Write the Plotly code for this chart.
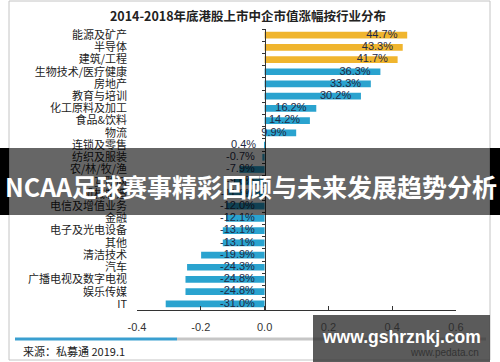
import plotly.graph_objects as go

# ---------------- data ----------------
categories = ["能源及矿产", "半导体", "建筑/工程", "生物技术/医疗健康", "房地产", "教育与培训",
              "化工原料及加工", "食品&饮料", "物流", "连锁及零售", "纺织及服装", "农/林/牧/渔",
              "互联网", "机械制造", "电信及增值业务", "金融", "电子及光电设备", "其他",
              "清洁技术", "汽车", "广播电视及数字电视", "娱乐传媒", "IT"]
growth_pct = [44.7, 43.3, 41.7, 36.3, 33.3, 30.2, 16.2, 14.2, 9.9, 0.4, -0.7, -7.9,
              -9.6, -11.3, -12.0, -12.1, -13.1, -13.1, -19.9, -24.3, -24.8, -24.8, -31.0]
highlight_top = 3
x_tickvals = [-0.4, -0.2, 0.0, 0.2, 0.4, 0.6]
x_ticktext = ["-0.4", "-0.2", "0.0", "0.2", "0.4", "0.6"]

title_text = "<b>2014-2018年底港股上市中企市值涨幅按行业分布</b>"
source_text = "来源：私募通 2019.1"
site_text = "www.pedata.cn"
banner_text = "<b>NCAA足球赛事精彩回顾与未来发展趋势分析</b>"
watermark_text = "<b>www.gshrznkj.com</b>"

# ---------------- styling ----------------
W, H = 500, 362
ML, MR, MT, MB = 137, 44, 29, 52
PW, PH = W - ML - MR, H - MT - MB
GOLD = "#F0B52E"
BLUE = "#2AA3CF"
CJK = "Noto Sans CJK SC"


def px(x):
    return (x - ML) / PW


def py(y):
    return (H - MB - y) / PH


n = len(categories)
fractions = [v / 100 for v in growth_pct]
colors = [GOLD if i < highlight_top else BLUE for i in range(n)]
labels = [f"{v:.1f}%" for v in growth_pct]
label_x = [max(f, 0) for f in fractions]

fig = go.Figure()
fig.add_trace(go.Bar(
    y=categories, x=fractions, orientation="h",
    marker=dict(color=colors, line=dict(width=0)),
    hoverinfo="skip", showlegend=False,
))
fig.add_trace(go.Scatter(
    y=list(range(n)), x=label_x, yaxis="y2", mode="markers+text",
    marker=dict(size=14, opacity=0),
    text=labels, textposition="middle left",
    textfont=dict(family="Arial", size=11, color="#1f2a44"),
    hoverinfo="skip", showlegend=False, cliponaxis=False,
))

fig.update_layout(
    width=W, height=H,
    margin=dict(l=ML, r=MR, t=MT, b=MB),
    paper_bgcolor="white", plot_bgcolor="white",
    bargap=0.45,
    title=dict(text=title_text, x=0.496, xanchor="center", y=1 - 17 / H, yanchor="middle",
               xref="container", yref="container",
               font=dict(family=CJK, size=12.5, color="#222")),
    xaxis=dict(range=[-0.4, 0.6], tickvals=x_tickvals, ticktext=x_ticktext,
               ticks="inside", ticklen=4, tickcolor="#333",
               showline=True, linecolor="#333", linewidth=1,
               showgrid=False, zeroline=False, ticklabelstandoff=7,
               tickfont=dict(family="Arial", size=11, color="#333")),
    yaxis=dict(type="category", categoryorder="array", categoryarray=categories,
               tickmode="array", tickvals=categories, ticktext=categories,
               range=[n - 0.5, -0.5], showline=False, showgrid=False, zeroline=False,
               ticks="", ticklabelstandoff=9,
               tickfont=dict(family=CJK, size=11, color="#222")),
    yaxis2=dict(overlaying="y", anchor="free", position=0.4,
                range=[n - 0.5, -0.5], tickvals=[i - 0.5 for i in range(n + 1)],
                ticks="outside", ticklen=3, tickcolor="#333",
                showticklabels=False, showline=True, linecolor="#333", linewidth=1,
                showgrid=False, zeroline=False),
)

shapes = []
# chart border
shapes.append(dict(type="rect", xref="paper", yref="paper", x0=px(9), x1=px(490), y0=py(360), y1=py(1),
                   line=dict(color="#c4c4c4", width=1), fillcolor="rgba(0,0,0,0)", layer="below"))
# progress line
shapes.append(dict(type="line", xref="paper", yref="paper", x0=px(15), x1=px(177), y0=py(339), y1=py(339),
                   line=dict(color="#3A9FD0", width=3), layer="above"))
shapes.append(dict(type="line", xref="paper", yref="paper", x0=px(177), x1=px(486), y0=py(339), y1=py(339),
                   line=dict(color="#c6c6c6", width=3), layer="above"))
# banner
shapes.append(dict(type="rect", xref="paper", yref="paper", x0=px(9), x1=px(490), y0=py(215), y1=py(148),
                   line=dict(width=0), fillcolor="rgba(0,0,0,0.6)", layer="above"))
shapes.append(dict(type="rect", xref="paper", yref="paper", x0=px(0), x1=px(9), y0=py(215), y1=py(148),
                   line=dict(width=0), fillcolor="black", layer="above"))
shapes.append(dict(type="rect", xref="paper", yref="paper", x0=px(490), x1=px(500), y0=py(215), y1=py(148),
                   line=dict(width=0), fillcolor="black", layer="above"))
# watermark box
shapes.append(dict(type="rect", xref="paper", yref="paper", x0=px(313), x1=px(490), y0=py(362), y1=py(315),
                   line=dict(width=0), fillcolor="rgba(45,45,45,0.78)", layer="above"))
fig.update_layout(shapes=shapes)

annotations = [
    dict(text=source_text, x=px(21), y=py(351), xref="paper", yref="paper", xanchor="left", yanchor="middle",
         showarrow=False, font=dict(family=CJK, size=11, color="#222")),
    dict(text=site_text, x=px(481), y=py(352), xref="paper", yref="paper", xanchor="right", yanchor="middle",
         showarrow=False, font=dict(family="Arial", size=10, color="#333")),
    dict(text=banner_text, x=px(250.5), y=py(186), xref="paper", yref="paper", xanchor="center", yanchor="middle",
         showarrow=False, font=dict(family=CJK, size=25, color="white")),
    dict(text=watermark_text, x=px(401), y=py(337), xref="paper", yref="paper", xanchor="center", yanchor="middle",
         showarrow=False, font=dict(family="Liberation Sans", size=17.5, color="white")),
]
fig.update_layout(annotations=annotations)

fig.write_html("out.html", config={"displayModeBar": False},
               post_script="document.body.style.margin='0';")
